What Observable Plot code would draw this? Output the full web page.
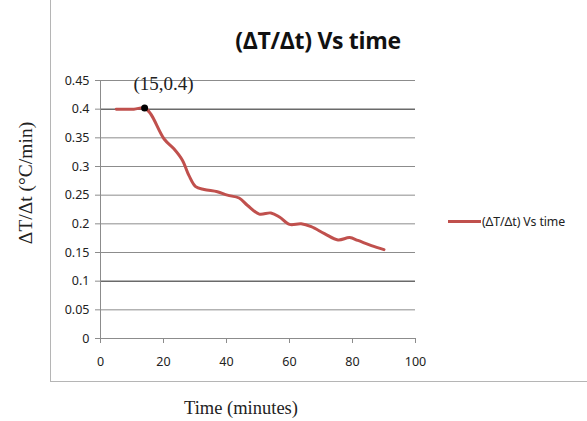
<!DOCTYPE html>
<html>
<head>
<meta charset="utf-8">
<script src="https://cdn.jsdelivr.net/npm/d3@7"></script>
<script src="https://cdn.jsdelivr.net/npm/@observablehq/plot@0.6"></script>
<style>
  body { margin: 0; background: #fff; }
  #wrap { position: relative; width: 587px; height: 421px; overflow: hidden; background: #fff; }
  #wrap svg { position: absolute; left: 0; top: 0; }
  .frame { position: absolute; left: 50px; top: -2px; width: 560px; height: 384px; border-left: 1.5px solid #b5b5b5; border-bottom: 1.5px solid #b5b5b5; box-sizing: border-box; }
  .title { position: absolute; left: 168px; width: 300px; top: 24px; text-align: center; font-family: "Open Sans", sans-serif; font-weight: bold; font-size: 23px; color: #111; letter-spacing: -0.3px; }
  .ylab { position: absolute; left: 26px; top: 183px; transform: translate(-50%, -50%) rotate(-90deg); white-space: nowrap; font-family: "Liberation Serif", serif; font-size: 19.5px; color: #222; }
  .xlab { position: absolute; left: 141px; width: 200px; top: 398px; text-align: center; font-family: "Liberation Serif", serif; font-size: 18.5px; color: #222; }
  .legend { position: absolute; left: 448px; top: 213px; font-family: "Noto Sans", sans-serif; font-size: 12.3px; color: #222; display: flex; align-items: center; white-space: nowrap; letter-spacing: -0.1px; }
  .legend span.sw { display: inline-block; width: 33px; height: 3px; background: #c0504d; margin-right: 1px; }
</style>
</head>
<body>
<div id="wrap">
  <div class="frame"></div>
</div>
<script>
const times = [5, 10.6, 14, 15.9, 20.2, 23.3, 26, 28.1, 30.2, 32.9, 37.1, 40.3, 44, 46.7, 50.4, 54.1, 56.8, 60, 63.7, 66.9, 71.1, 75.4, 79.1, 81.7, 86, 90];
const rates = [0.4, 0.4, 0.402, 0.392, 0.348, 0.331, 0.311, 0.284, 0.265, 0.26, 0.256, 0.25, 0.245, 0.232, 0.217, 0.219, 0.212, 0.199, 0.2, 0.195, 0.183, 0.172, 0.176, 0.171, 0.162, 0.155];
const yTicks = [0, 0.05, 0.1, 0.15, 0.2, 0.25, 0.3, 0.35, 0.4, 0.45];
const xTicks = [0, 20, 40, 60, 80, 100];
const darkGrid = [0.1, 0.4];
const marker = [{t: 14, r: 0.402, label: "(15,0.4)"}];
const titleText = "(ΔT/Δt) Vs time";
const yLabel = "ΔT/Δt (°C/min)";
const xLabel = "Time (minutes)";
const seriesName = "(ΔT/Δt) Vs time";

const data = times.map((t, i) => ({t, r: rates[i]}));

const chart = Plot.plot({
  width: 587,
  height: 421,
  marginLeft: 100,
  marginRight: 172,
  marginTop: 80,
  marginBottom: 83,
  style: {fontFamily: "'Noto Sans', sans-serif", fontSize: "12.5px", color: "#222", background: "transparent"},
  x: {domain: [0, 100], ticks: xTicks, label: null},
  y: {domain: [0, 0.45], ticks: yTicks, label: null},
  marks: [
    Plot.ruleY(yTicks.filter(d => d > 0 && !darkGrid.includes(d)), {stroke: "#8c8c8c", strokeWidth: 1}),
    Plot.ruleY(darkGrid, {stroke: "#6a6a6a", strokeWidth: 1.5}),
    Plot.ruleY([0], {stroke: "#8c8c8c", strokeWidth: 1}),
    Plot.ruleX([0], {stroke: "#8c8c8c", strokeWidth: 1}),
    Plot.axisY({ticks: yTicks, tickFormat: d => String(+d.toFixed(2)), tickSize: 5, tickPadding: 6, stroke: "#8c8c8c", fill: "#222", fontSize: 12.5}),
    Plot.axisX({ticks: xTicks, tickFormat: d => String(d), tickSize: 5, tickPadding: 14, stroke: "#8c8c8c", fill: "#222", fontSize: 12.5}),
    Plot.line(data, {x: "t", y: "r", stroke: "#c0504d", strokeWidth: 3, curve: "catmull-rom"}),
    Plot.dot(marker, {x: "t", y: "r", r: 3.5, fill: "#000"}),
    Plot.text(marker, {x: "t", y: "r", text: "label", dy: -24, dx: 19, fontFamily: "'Liberation Serif', serif", fontSize: 19, fill: "#222"})
  ]
});

const wrap = document.getElementById("wrap");
wrap.appendChild(chart);

function addDiv(cls, text) {
  const d = document.createElement("div");
  d.className = cls;
  d.textContent = text;
  wrap.appendChild(d);
  return d;
}
addDiv("title", titleText);
addDiv("ylab", yLabel);
addDiv("xlab", xLabel);
const lg = document.createElement("div");
lg.className = "legend";
const sw = document.createElement("span");
sw.className = "sw";
lg.appendChild(sw);
lg.appendChild(document.createTextNode(seriesName));
wrap.appendChild(lg);
</script>
</body>
</html>
